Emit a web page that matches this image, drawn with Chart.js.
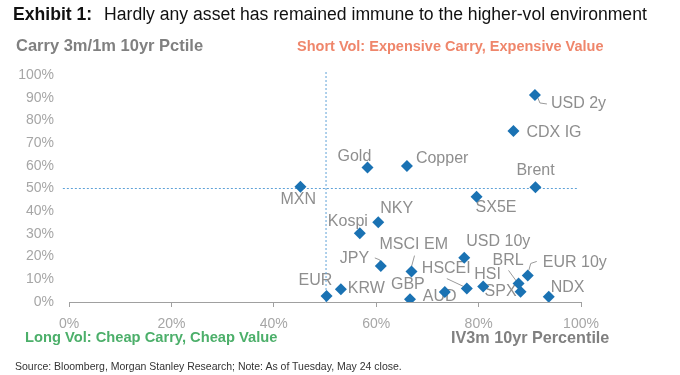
<!DOCTYPE html>
<html>
<head>
<meta charset="utf-8">
<script src="https://cdn.jsdelivr.net/npm/chart.js@4.4.1/dist/chart.umd.min.js"></script>
<style>
  body { margin: 0; background: #fff; font-family: "Liberation Sans", Arial, sans-serif; }
  #wrap { position: relative; width: 680px; height: 375px; }
  #wrap canvas { position: absolute; left: 0; top: 0; }
  .txt { position: absolute; white-space: nowrap; line-height: 1; }
  #title { left: 13px; top: 6px; font-size: 17.6px; color: #111; }
  #title b { margin-right: 7px; }
  #yTitle { left: 16px; top: 37px; font-size: 16.5px; font-weight: bold; color: #808080; }
  #shortVol { left: 297px; top: 39px; font-size: 14.5px; font-weight: bold; color: #ef866b; }
  #longVol { left: 25px; top: 330px; font-size: 14.7px; font-weight: bold; color: #4caf6a; }
  #xTitle { left: 451px; top: 329px; font-size: 16.2px; font-weight: bold; color: #808080; }
  #source { left: 15px; top: 361px; font-size: 10.5px; color: #333; }
</style>
</head>
<body>
<div id="wrap">
  <canvas id="scatterChart" width="680" height="375"></canvas>
  <div class="txt" id="title"><b>Exhibit 1:</b> Hardly any asset has remained immune to the higher-vol environment</div>
  <div class="txt" id="yTitle">Carry 3m/1m 10yr Pctile</div>
  <div class="txt" id="shortVol">Short Vol: Expensive Carry, Expensive Value</div>
  <div class="txt" id="longVol">Long Vol: Cheap Carry, Cheap Value</div>
  <div class="txt" id="xTitle">IV3m 10yr Percentile</div>
  <div class="txt" id="source">Source: Bloomberg, Morgan Stanley Research; Note: As of Tuesday, May 24 close.</div>
</div>
<script>
// Data (percentiles)
const assets = ['USD 2y', 'CDX IG', 'Gold', 'Copper', 'Brent', 'MXN', 'SX5E', 'NKY', 'Kospi', 'JPY', 'MSCI EM',
  'USD 10y', 'HSCEI', 'HSI', 'BRL', 'EUR 10y', 'SPX', 'NDX', 'AUD', 'GBP', 'EUR', 'KRW'];
const ivPctile = [91.0, 86.8, 58.3, 66.0, 91.1, 45.2, 79.6, 60.4, 56.8, 60.9, 66.9,
  77.2, 77.7, 80.9, 87.8, 89.6, 88.2, 93.7, 73.4, 66.6, 50.3, 53.1];
const carryPctile = [91.2, 75.3, 59.3, 59.9, 50.5, 50.8, 46.4, 35.1, 30.3, 15.9, 13.4,
  19.5, 5.9, 6.8, 8.2, 11.7, 4.5, 2.3, 4.4, 1.2, 2.6, 5.6];

// quadrant split lines (percentile)
const splitX = [50.2, 50.2];
const splitXRange = [0, 101.5];
const splitY = [50, 50];
const splitYRange = [-1.2, 99.3];

// label placement, pixels from the marker: [dx to left edge, dy to text middle]
const labelOffsets = {
  'USD 2y': [16, 9], 'CDX IG': [13, 2], 'Gold': [-30, -11], 'Copper': [9, -7], 'Brent': [-19, -17],
  'MXN': [-20, 13], 'SX5E': [-1, 11], 'NKY': [2, -14], 'Kospi': [-32, -12], 'JPY': [-41, -7],
  'MSCI EM': [-32, -27], 'USD 10y': [2, -16], 'HSCEI': [-45, -20], 'HSI': [-9, -12], 'BRL': [-26, -23],
  'EUR 10y': [15, -13], 'SPX': [-36, 0], 'NDX': [2, -9], 'AUD': [-22, 5], 'GBP': [-19, -15],
  'EUR': [-28, -16], 'KRW': [7, -1]
};
// leader lines, pixels from the marker
const leaders = {
  'USD 2y': [[3, 3], [5, 8], [12, 9]],
  'JPY': [[-6, -8], [-1, -6], [0, -3]],
  'MSCI EM': [[3, -16], [0, -5]],
  'HSCEI': [[-20, -10], [-3, -2]],
  'BRL': [[-10, -13], [-2, -2]],
  'EUR 10y': [[9, -14], [3, -12], [1, -5]]
};

const points = assets.map((name, i) => ({ x: ivPctile[i], y: carryPctile[i] }));

const pointLabels = {
  id: 'pointLabels',
  beforeDatasetsDraw(chart) {
    const ctx = chart.ctx;
    const meta = chart.getDatasetMeta(0);
    ctx.save();
    ctx.font = '16px "Liberation Sans", Arial, sans-serif';
    ctx.fillStyle = '#8e8e8e';
    ctx.strokeStyle = '#9a9a9a';
    ctx.lineWidth = 1;
    ctx.textBaseline = 'middle';
    ctx.textAlign = 'left';
    meta.data.forEach((pt, i) => {
      const name = assets[i];
      const off = labelOffsets[name];
      ctx.fillText(name, pt.x + off[0], pt.y + off[1]);
      const ld = leaders[name];
      if (ld) {
        ctx.beginPath();
        ld.forEach((p, j) => {
          if (j === 0) ctx.moveTo(pt.x + p[0], pt.y + p[1]);
          else ctx.lineTo(pt.x + p[0], pt.y + p[1]);
        });
        ctx.stroke();
      }
    });
    ctx.restore();
  }
};

const ctx = document.getElementById('scatterChart').getContext('2d');
new Chart(ctx, {
  type: 'scatter',
  data: {
    datasets: [
      {
        data: points,
        pointStyle: 'rectRot',
        pointRadius: 6,
        pointHoverRadius: 6,
        backgroundColor: '#1a72b3',
        borderWidth: 0,
        order: 0
      },
      {
        type: 'line',
        data: splitY.map((v, i) => ({ x: splitYRange[i], y: v })),
        borderColor: '#5fa2d8',
        borderWidth: 1,
        borderDash: [2, 2],
        pointRadius: 0,
        clip: false,
        order: 1
      },
      {
        type: 'line',
        data: splitX.map((v, i) => ({ x: v, y: splitXRange[i] })),
        borderColor: '#5fa2d8',
        borderWidth: 1,
        borderDash: [2, 2],
        pointRadius: 0,
        clip: false,
        order: 1
      }
    ]
  },
  options: {
    responsive: false,
    animation: false,
    layout: { padding: { top: 75, right: 99, bottom: 0, left: 0 } },
    plugins: {
      legend: { display: false },
      tooltip: { enabled: false }
    },
    scales: {
      x: {
        type: 'linear',
        min: 0,
        max: 100,
        afterFit: (s) => { s.height = 73; },
        ticks: {
          stepSize: 20,
          padding: 9,
          color: '#a6a6a6',
          font: { size: 14, family: '"Liberation Sans", Arial, sans-serif' },
          callback: (v) => v + '%'
        },
        grid: { drawOnChartArea: false, drawTicks: true, tickLength: 5, color: '#a0a0a0' },
        border: { display: true, color: '#a0a0a0', width: 1 }
      },
      y: {
        type: 'linear',
        min: 0,
        max: 100,
        afterFit: (s) => { s.width = 69; },
        ticks: {
          stepSize: 10,
          padding: 15,
          color: '#a6a6a6',
          font: { size: 14, family: '"Liberation Sans", Arial, sans-serif' },
          callback: (v) => v + '%'
        },
        grid: { display: false, drawTicks: false },
        border: { display: false }
      }
    }
  },
  plugins: [pointLabels]
});
</script>
</body>
</html>
